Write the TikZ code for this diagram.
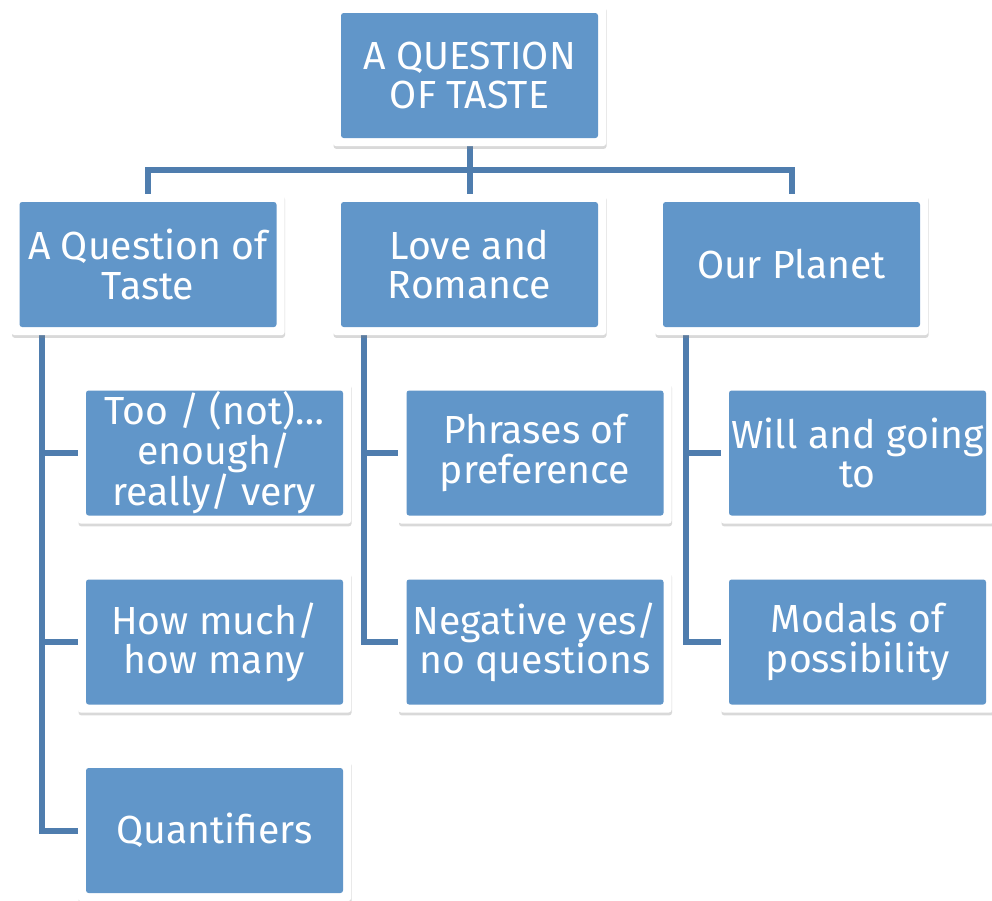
\documentclass[tikz,border=0pt]{standalone}
\usepackage{fontspec}
\setmainfont{Fira Sans}
\usepackage{tikz}
\usetikzlibrary{shadows, backgrounds}
\definecolor{boxblue}{RGB}{97,150,201}
\definecolor{linkblue}{RGB}{79,125,174}

\tikzset{
  topic/.style={rectangle, fill=white, rounded corners=1.5pt,
    drop shadow={opacity=0.3, shadow xshift=0.3pt, shadow yshift=-1.6pt},
    minimum width=5.46cm, minimum height=2.82cm, inner sep=0pt,
    align=center, text=white, font=\fontsize{22.3}{22.3}\selectfont,
    path picture={\fill[boxblue] ([shift={(0.16,0.16)}]path picture bounding box.south west)
      rectangle ([shift={(-0.16,-0.16)}]path picture bounding box.north east);}},
  link/.style={draw=linkblue, line width=0.12cm}
}

\begin{document}
\begin{tikzpicture}
  \useasboundingbox (0,0) rectangle (19.84,-18);
  \node[topic] (taste) at (9.39,-1.51) {A QUESTION\\OF TASTE};
  \node[topic] (question) at (2.96,-5.29) {A Question of\\Taste};
  \node[topic] (romance) at (9.39,-5.29) {Love and\\Romance};
  \node[topic] (planet) at (15.83,-5.29) {Our Planet};
  \node[topic] (tooenough) at (4.29,-9.06) {Too / (not)\ldots\\enough/\\really/ very};
  \node[topic] (howmuch) at (4.29,-12.84) {How much/\\how many};
  \node[topic] (quantifiers) at (4.29,-16.61) {Quantifiers};
  \node[topic] (phrases) at (10.70,-9.06) {Phrases of\\preference};
  \node[topic] (negative) at (10.70,-12.84) {Negative yes/\\no questions};
  \node[topic] (willgoing) at (17.15,-9.06) {Will and going\\to};
  \node[topic] (modals) at (17.15,-12.84) {Modals of\\possibility};
  \begin{scope}[on background layer]
    \draw[link] (taste.south) -- ++(0,-0.48) -| (question.north);
    \draw[link] (taste.south) -- ++(0,-0.48) -| (planet.north);
    \draw[link] (taste) -- (romance);
    \draw[link] ([xshift=0.62cm]question.south west) |- (tooenough.west);
    \draw[link] ([xshift=0.62cm]question.south west) |- (howmuch.west);
    \draw[link] ([xshift=0.62cm]question.south west) |- (quantifiers.west);
    \draw[link] ([xshift=0.62cm]romance.south west) |- (phrases.west);
    \draw[link] ([xshift=0.62cm]romance.south west) |- (negative.west);
    \draw[link] ([xshift=0.62cm]planet.south west) |- (willgoing.west);
    \draw[link] ([xshift=0.62cm]planet.south west) |- (modals.west);
  \end{scope}
\end{tikzpicture}
\end{document}
